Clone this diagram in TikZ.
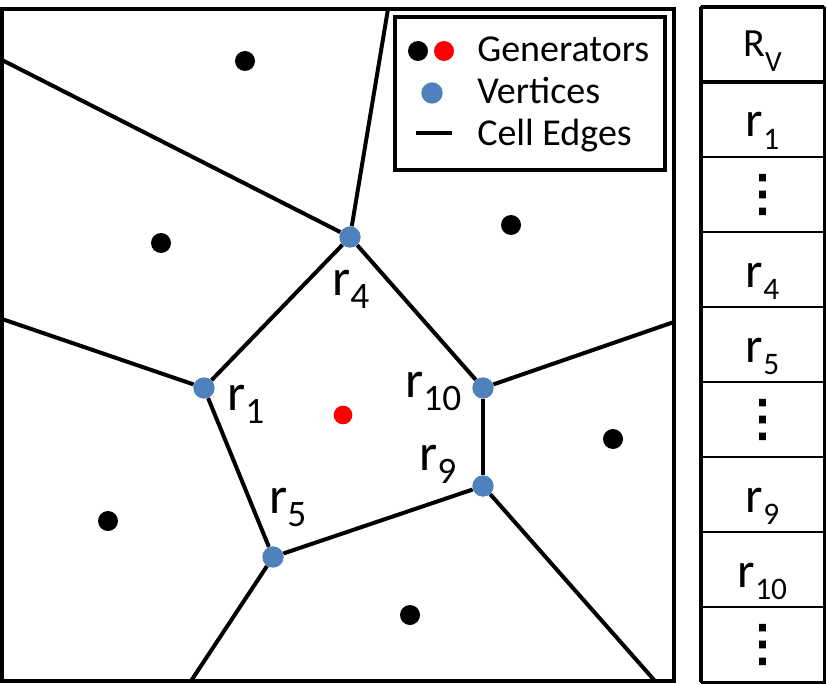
\documentclass[tikz,border=0pt]{standalone}
\usepackage{fontspec}
\setmainfont{Carlito}
\newfontfamily\dotsfont[FakeBold=3]{DejaVu Sans}
\usepackage{tikz}
\usetikzlibrary{positioning}
\definecolor{vblue}{RGB}{79,129,189}
\tikzstyle{vertex} = [circle, fill=vblue, minimum size=16pt, inner sep=0pt]
\tikzstyle{gen} = [circle, fill=black, minimum size=15pt, inner sep=0pt]
\tikzstyle{genred} = [gen, fill=red, minimum size=14pt]
\tikzstyle{celledge} = [line width=3pt]
\tikzstyle{frame} = [line width=3.2pt]
\tikzstyle{lbl} = [anchor=base west, inner sep=0pt, font=\fontsize{39}{39}\selectfont]
\tikzstyle{legtext} = [anchor=base west, inner sep=0pt, font=\fontsize{28.5}{28.5}\selectfont]
\tikzstyle{cell} = [rectangle, draw=black, line width=1.5pt, minimum width=92.25pt, minimum height=56.25pt, inner sep=0pt, outer sep=0pt, text height=28pt, text depth=1.75pt, font=\fontsize{37.5}{37.5}\selectfont]
\tikzstyle{hdrcell} = [cell, text height=20.5pt, font=\fontsize{30}{30}\selectfont]
\tikzstyle{dotcell} = [cell, text height=, text depth=, font=\dotsfont\fontsize{37}{37}\selectfont]
\newcommand{\figr}[1]{r\raisebox{-0.25em}{\fontsize{28}{28}\selectfont #1}}
\newcommand{\tabr}[1]{r\raisebox{-0.25em}{\fontsize{23.5}{23.5}\selectfont #1}}

\begin{document}
\begin{tikzpicture}[x=0.75pt, y=-0.75pt]
    \useasboundingbox (0,0) rectangle (827,684);

    % Vertices
    \node (r4) [vertex] at (350,237) {};
    \node (r1) [vertex] at (204,388) {};
    \node (r10) [vertex] at (483,388) {};
    \node (r9) [vertex] at (483,486) {};
    \node (r5) [vertex] at (273,557) {};

    % Generators
    \node (g1) [gen] at (245,61) {};
    \node (g2) [gen] at (161,243) {};
    \node (g3) [gen] at (511,225) {};
    \node (g4) [gen] at (108,521) {};
    \node (g5) [gen] at (613,439) {};
    \node (g6) [gen] at (410,615) {};
    \node (g0) [genred] at (343,415) {};

    % Border points
    \coordinate (btop) at (388,9);
    \coordinate (bleft1) at (2,60);
    \coordinate (bleft2) at (2,319);
    \coordinate (bright) at (674,322);
    \coordinate (bbot1) at (191,681);
    \coordinate (bbot2) at (655,681);

    % Edges
    \draw [celledge] (r4) -- (btop);
    \draw [celledge] (r4) -- (bleft1);
    \draw [celledge] (r4) -- (r1);
    \draw [celledge] (r4) -- (r10);
    \draw [celledge] (r1) -- (bleft2);
    \draw [celledge] (r1) -- (r5);
    \draw [celledge] (r10) -- (bright);
    \draw [celledge] (r10) -- (r9);
    \draw [celledge] (r9) -- (r5);
    \draw [celledge] (r9) -- (bbot2);
    \draw [celledge] (r5) -- (bbot1);
    \draw [frame] (2,9) rectangle (674,681);

    % Labels
    \node (l4) [lbl] at (332,295) {\figr{4}};
    \node (l1) [lbl] at (227,410) {\figr{1}};
    \node (l10) [lbl] at (405,397) {\figr{10}};
    \node (l9) [lbl] at (419,470) {\figr{9}};
    \node (l5) [lbl] at (269,513) {\figr{5}};

    % Legend
    \node (legend) [draw, line width=3.5pt, fill=white, minimum width=202.5pt, minimum height=114.75pt, inner sep=0pt, outer sep=0pt] at (530,93.5) {};
    \node (lgk) [gen] at (418,51) {};
    \node (lgr) [genred, minimum size=15pt] at (444,51) {};
    \node (lgv) [vertex] at (432,93) {};
    \coordinate (lga) at (416,133);
    \coordinate (lgb) at (452,133);
    \draw [line width=3.2pt] (lga) -- (lgb);
    \node (tg) [legtext] at (477,62) {Generators};
    \node (tv) [legtext] at (477,104) {Vertices};
    \node (te) [legtext] at (477,146) {Cell Edges};

    % Table
    \node (hdr) [hdrcell] at (762.5,44.5) {R\raisebox{-0.37em}{\fontsize{22}{22}\selectfont V}};
    \node (c1) [cell, below of=hdr, node distance=56.25pt] {\tabr{1}};
    \node (d1) [dotcell, below of=c1, node distance=56.25pt] {⋮};
    \node (c4) [cell, below of=d1, node distance=56.25pt] {\tabr{4}};
    \node (c5) [cell, below of=c4, node distance=56.25pt] {\tabr{5}};
    \node (d2) [dotcell, below of=c5, node distance=56.25pt] {⋮};
    \node (c9) [cell, below of=d2, node distance=56.25pt] {\tabr{9}};
    \node (c10) [cell, below of=c9, node distance=56.25pt] {\tabr{10}};
    \node (d3) [dotcell, below of=c10, node distance=56.25pt] {⋮};
    \draw [frame] (hdr.north west) -- (d3.south west);
    \draw [frame] (hdr.north west) -- (hdr.north east);
    \draw [frame] (hdr.south west) -- (hdr.south east);
    \draw [line width=2.25pt] (hdr.north east) -- (d3.south east) -- (d3.south west);
\end{tikzpicture}
\end{document}
